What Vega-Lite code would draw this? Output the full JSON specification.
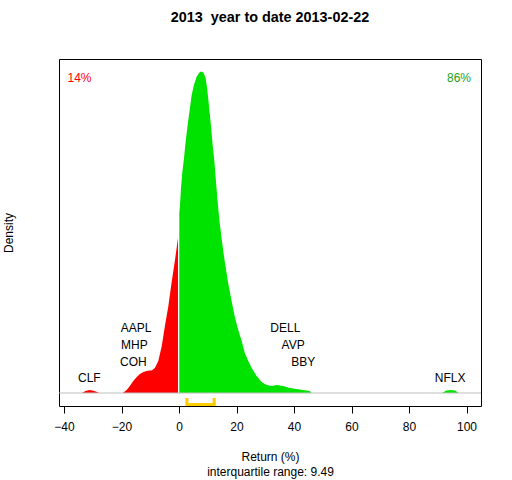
{
  "$schema": "https://vega.github.io/schema/vega-lite/v6.json",
  "autosize": "none",
  "padding": {"left": 59, "top": 59, "right": 31, "bottom": 74},
  "width": 422,
  "height": 347,
  "background": "white",
  "title": {
    "text": "2013\u00a0 year to date 2013-02-22",
    "font": "Liberation Sans",
    "fontSize": 14.4,
    "fontWeight": "bold",
    "color": "black",
    "anchor": "middle",
    "baseline": "middle",
    "offset": 27
  },
  "config": {
    "view": {"stroke": "black", "strokeWidth": 1},
    "font": "Liberation Sans"
  },
  "datasets": {
    "curve": [
      {"part": "neg", "ret": -33.8, "dens": 0},
      {"part": "neg", "ret": -32.5, "dens": 0.0004},
      {"part": "neg", "ret": -31.2, "dens": 0.0006},
      {"part": "neg", "ret": -30.0, "dens": 0.0005},
      {"part": "neg", "ret": -28.5, "dens": 0.0002},
      {"part": "neg", "ret": -27.8, "dens": 0},
      {"part": "neg", "ret": -19.6, "dens": 0},
      {"part": "neg", "ret": -18.2, "dens": 0.0006},
      {"part": "neg", "ret": -17.1, "dens": 0.0014},
      {"part": "neg", "ret": -15.9, "dens": 0.0024},
      {"part": "neg", "ret": -14.7, "dens": 0.0032},
      {"part": "neg", "ret": -13.6, "dens": 0.0038},
      {"part": "neg", "ret": -12.4, "dens": 0.0042},
      {"part": "neg", "ret": -11.3, "dens": 0.0044},
      {"part": "neg", "ret": -10.2, "dens": 0.0045},
      {"part": "neg", "ret": -9.5, "dens": 0.0045},
      {"part": "neg", "ret": -8.4, "dens": 0.005},
      {"part": "neg", "ret": -7.2, "dens": 0.0064},
      {"part": "neg", "ret": -6.0, "dens": 0.0094},
      {"part": "neg", "ret": -4.9, "dens": 0.0134},
      {"part": "neg", "ret": -3.7, "dens": 0.0174},
      {"part": "neg", "ret": -2.6, "dens": 0.022},
      {"part": "neg", "ret": -1.4, "dens": 0.0266},
      {"part": "neg", "ret": -0.35, "dens": 0.031},
      {"part": "pos", "ret": 0.1, "dens": 0.036},
      {"part": "pos", "ret": 0.35, "dens": 0.0376},
      {"part": "pos", "ret": 0.7, "dens": 0.041},
      {"part": "pos", "ret": 1.16, "dens": 0.0442},
      {"part": "pos", "ret": 1.74, "dens": 0.047},
      {"part": "pos", "ret": 2.3, "dens": 0.0502},
      {"part": "pos", "ret": 3.0, "dens": 0.0536},
      {"part": "pos", "ret": 3.8, "dens": 0.057},
      {"part": "pos", "ret": 4.4, "dens": 0.0596},
      {"part": "pos", "ret": 5.2, "dens": 0.0616},
      {"part": "pos", "ret": 6.1, "dens": 0.0632},
      {"part": "pos", "ret": 7.1, "dens": 0.0641},
      {"part": "pos", "ret": 7.65, "dens": 0.0643},
      {"part": "pos", "ret": 8.5, "dens": 0.0641},
      {"part": "pos", "ret": 9.3, "dens": 0.0629},
      {"part": "pos", "ret": 9.85, "dens": 0.0606},
      {"part": "pos", "ret": 10.4, "dens": 0.0576},
      {"part": "pos", "ret": 11.1, "dens": 0.0536},
      {"part": "pos", "ret": 11.7, "dens": 0.0496},
      {"part": "pos", "ret": 12.3, "dens": 0.0464},
      {"part": "pos", "ret": 12.8, "dens": 0.0428},
      {"part": "pos", "ret": 13.3, "dens": 0.0392},
      {"part": "pos", "ret": 14.0, "dens": 0.0348},
      {"part": "pos", "ret": 14.8, "dens": 0.031},
      {"part": "pos", "ret": 15.5, "dens": 0.028},
      {"part": "pos", "ret": 16.0, "dens": 0.026},
      {"part": "pos", "ret": 17.1, "dens": 0.022},
      {"part": "pos", "ret": 18.3, "dens": 0.0184},
      {"part": "pos", "ret": 19.5, "dens": 0.015},
      {"part": "pos", "ret": 20.6, "dens": 0.0126},
      {"part": "pos", "ret": 21.8, "dens": 0.0104},
      {"part": "pos", "ret": 22.9, "dens": 0.008},
      {"part": "pos", "ret": 24.1, "dens": 0.0064},
      {"part": "pos", "ret": 25.3, "dens": 0.005},
      {"part": "pos", "ret": 27.0, "dens": 0.0034},
      {"part": "pos", "ret": 28.7, "dens": 0.0022},
      {"part": "pos", "ret": 30.5, "dens": 0.0016},
      {"part": "pos", "ret": 32.2, "dens": 0.0014},
      {"part": "pos", "ret": 34.0, "dens": 0.0016},
      {"part": "pos", "ret": 36.3, "dens": 0.0014},
      {"part": "pos", "ret": 38.6, "dens": 0.001},
      {"part": "pos", "ret": 40.9, "dens": 0.0008},
      {"part": "pos", "ret": 43.2, "dens": 0.0006},
      {"part": "pos", "ret": 45.5, "dens": 0.0004},
      {"part": "pos", "ret": 46.1, "dens": 0},
      {"part": "pos", "ret": 91.5, "dens": 0},
      {"part": "pos", "ret": 93.0, "dens": 0.0005},
      {"part": "pos", "ret": 94.5, "dens": 0.0006},
      {"part": "pos", "ret": 96.0, "dens": 0.0005},
      {"part": "pos", "ret": 97.3, "dens": 0}
    ],
    "labels": [
      {"label": "CLF", "ret": -31.2, "dens": 0.0031, "group": "stock"},
      {"label": "AAPL", "ret": -14.9, "dens": 0.0131, "group": "stock"},
      {"label": "MHP", "ret": -15.5, "dens": 0.0097, "group": "stock"},
      {"label": "COH", "ret": -15.9, "dens": 0.0063, "group": "stock"},
      {"label": "DELL", "ret": 37.0, "dens": 0.0131, "group": "stock"},
      {"label": "AVP", "ret": 39.7, "dens": 0.0097, "group": "stock"},
      {"label": "BBY", "ret": 43.2, "dens": 0.0063, "group": "stock"},
      {"label": "NFLX", "ret": 94.3, "dens": 0.0031, "group": "stock"},
      {"label": "14%", "ret": -34.6, "dens": 0.063, "group": "neg"},
      {"label": "86%", "ret": 97.4, "dens": 0.063, "group": "pos"}
    ],
    "iqr": [
      {"ret": 2.75, "dens": -0.001, "o": 1},
      {"ret": 2.75, "dens": -0.0023, "o": 2},
      {"ret": 12.24, "dens": -0.0023, "o": 3},
      {"ret": 12.24, "dens": -0.001, "o": 4}
    ],
    "base": [
      {"dens": 0}
    ]
  },
  "layer": [
    {
      "data": {"name": "curve"},
      "mark": {"type": "area", "interpolate": "linear"},
      "encoding": {
        "x": {
          "field": "ret", "type": "quantitative",
          "scale": {"domain": [-41.74, 105.04], "nice": false, "zero": false},
          "axis": {
            "values": [-40, -20, 0, 20, 40, 60, 80, 100],
            "domain": false, "grid": false,
            "tickSize": 7, "tickColor": "black", "tickWidth": 1,
            "labelFont": "Liberation Sans", "labelFontSize": 12, "labelColor": "black",
            "labelPadding": 8,
            "title": ["Return (%)", "interquartile range: 9.49"],
            "titleFont": "Liberation Sans", "titleFontSize": 12, "titleFontWeight": "normal",
            "titleColor": "black", "titleLineHeight": 15, "titlePadding": 19
          }
        },
        "y": {
          "field": "dens", "type": "quantitative",
          "scale": {"domain": [-0.0026, 0.0668], "nice": false, "zero": false},
          "axis": {
            "domain": false, "grid": false, "ticks": false, "labels": false,
            "title": "Density",
            "titleFont": "Liberation Sans", "titleFontSize": 12, "titleFontWeight": "normal",
            "titleColor": "black", "titlePadding": 44
          }
        },
        "y2": {"datum": 0},
        "color": {
          "field": "part", "type": "nominal",
          "scale": {"domain": ["neg", "pos"], "range": ["#FF0000", "#00E300"]},
          "legend": null
        }
      }
    },
    {
      "data": {"name": "base"},
      "mark": {"type": "rule", "color": "#BEBEBE", "strokeWidth": 1},
      "encoding": {"y": {"field": "dens", "type": "quantitative"}}
    },
    {
      "data": {"name": "iqr"},
      "mark": {"type": "line", "color": "#FFCC00", "strokeWidth": 3, "strokeCap": "butt", "strokeJoin": "miter"},
      "encoding": {
        "x": {"field": "ret", "type": "quantitative"},
        "y": {"field": "dens", "type": "quantitative"},
        "order": {"field": "o"}
      }
    },
    {
      "data": {"name": "labels"},
      "mark": {"type": "text", "font": "Liberation Sans", "fontSize": 12, "align": "center", "baseline": "middle"},
      "encoding": {
        "x": {"field": "ret", "type": "quantitative"},
        "y": {"field": "dens", "type": "quantitative"},
        "text": {"field": "label"},
        "color": {
          "field": "group", "type": "nominal",
          "scale": {"domain": ["stock", "neg", "pos", "a"], "range": ["black", "#FF0000", "#22A022", "black"]},
          "legend": null
        }
      }
    }
  ],
  "resolve": {"scale": {"color": "independent"}}
}
